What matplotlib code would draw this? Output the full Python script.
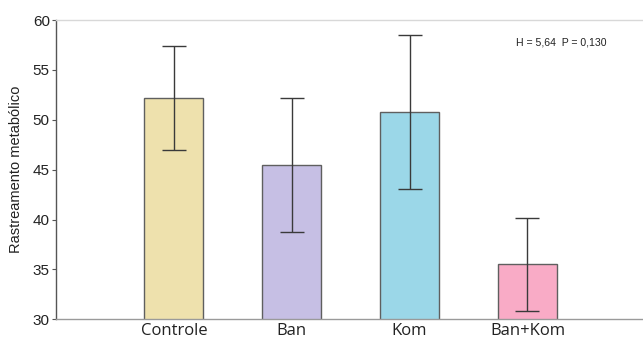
import matplotlib.pyplot as plt
import numpy as np

# grupos e valores (média e erro)
grupos = ['Controle', 'Ban', 'Kom', 'Ban+Kom']
medias = [52.15, 45.47, 50.78, 35.54]
erros = [5.2, 6.68, 7.75, 4.66]
cores = ['#EEE1AD', '#C6BFE4', '#9BD7E8', '#F9ABC6']
texto_stat = 'H = 5,64  P = 0,130'

fig = plt.figure(figsize=(6.43, 3.41), dpi=100)
ax = fig.add_axes([0.0871, 0.0636, 0.9129, 0.8777])

x = np.arange(len(grupos))
ax.bar(x, medias, width=0.5, color=cores, edgecolor='#5f5f5f', linewidth=1.0, zorder=2)
ax.errorbar(x, medias, yerr=erros, fmt='none', ecolor='#3a3a3a', elinewidth=1.0,
            capsize=8.5, capthick=1.0, zorder=3)

ax.set_xlim(-1.0, 3.98)
ax.set_ylim(30, 60)
ax.set_yticks(range(30, 61, 5))
ax.set_xticks(x)
ax.set_xticklabels(grupos, fontsize=12, family=['Open Sans', 'DejaVu Sans'])
ax.tick_params(axis='x', length=0, pad=3, colors='#222222')
ax.tick_params(axis='y', length=3, width=0.8, color='#555555', labelsize=11,
               labelcolor='#222222', pad=1.5)
for lab in ax.get_yticklabels():
    lab.set_family(['Liberation Sans', 'DejaVu Sans'])

ax.set_ylabel('Rastreamento metabólico', fontsize=10.5,
              family=['Liberation Sans', 'DejaVu Sans'], color='#222222', labelpad=7)

ax.spines['right'].set_visible(False)
ax.spines['left'].set_color('#555555')
ax.spines['bottom'].set_color('#9a9a9a')
ax.spines['top'].set_color('#d8d8d8')
for s in ax.spines.values():
    s.set_linewidth(1.0)

ax.text(0.783, 0.925, texto_stat, transform=ax.transAxes, fontsize=7.6,
        family=['Liberation Sans', 'DejaVu Sans'], color='#222222', va='center')

fig.savefig('out.png', dpi=100)
